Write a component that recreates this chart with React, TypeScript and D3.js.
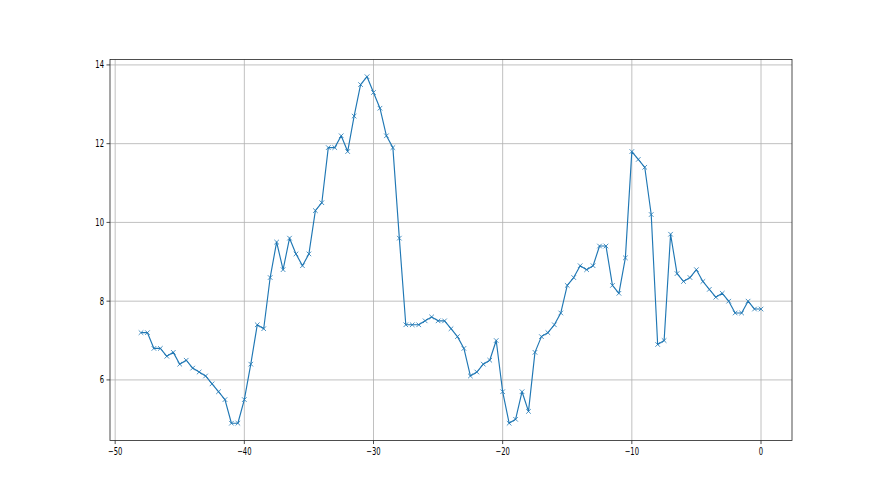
import React from "react";
import * as d3 from "d3";

const xValues: number[] = d3.range(97).map((i) => -48 + i * 0.5);
const yValues: number[] = [
  7.2, 7.2, 6.8, 6.8, 6.6, 6.7, 6.4, 6.5, 6.3, 6.2, 6.1, 5.9, 5.7, 5.5, 4.9, 4.9,
  5.5, 6.4, 7.4, 7.3, 8.6, 9.5, 8.8, 9.6, 9.2, 8.9, 9.2, 10.3, 10.5, 11.9, 11.9,
  12.2, 11.8, 12.7, 13.5, 13.7, 13.3, 12.9, 12.2, 11.9, 9.6, 7.4, 7.4, 7.4, 7.5,
  7.6, 7.5, 7.5, 7.3, 7.1, 6.8, 6.1, 6.2, 6.4, 6.5, 7.0, 5.7, 4.9, 5.0, 5.7, 5.2,
  6.7, 7.1, 7.2, 7.4, 7.7, 8.4, 8.6, 8.9, 8.8, 8.9, 9.4, 9.4, 8.4, 8.2, 9.1, 11.8,
  11.6, 11.4, 10.2, 6.9, 7.0, 9.7, 8.7, 8.5, 8.6, 8.8, 8.5, 8.3, 8.1, 8.2, 8.0,
  7.7, 7.7, 8.0, 7.8, 7.8,
];
const xTicks: number[] = [-50, -40, -30, -20, -10, 0];
const yTicks: number[] = [6, 8, 10, 12, 14];

const W = 880;
const H = 495;
const left = 110;
const right = 792;
const top = 59.4;
const bottom = 440.55;
const sx = 0.68;

export default function App() {
  const xMin = d3.min(xValues)!;
  const xMax = d3.max(xValues)!;
  const yMin = d3.min(yValues)!;
  const yMax = d3.max(yValues)!;
  const xPad = (xMax - xMin) * 0.05;
  const yPad = (yMax - yMin) * 0.05;
  const x = d3.scaleLinear().domain([xMin - xPad, xMax + xPad]).range([left, right]);
  const y = d3.scaleLinear().domain([yMin - yPad, yMax + yPad]).range([bottom, top]);
  const pts = xValues.map((v, i) => [v, yValues[i]] as [number, number]);
  const line = d3.line<[number, number]>().x((d) => x(d[0])).y((d) => y(d[1]));
  const color = "#1f77b4";
  const m = 2.3;
  return (
    <svg
      width={W}
      height={H}
      style={{ position: "absolute", left: 0, top: 0, background: "#fff" }}
      fontFamily="DejaVu Sans"
    >
      <rect x={0} y={0} width={W} height={H} fill="#fff" />
      {xTicks.map((t) => (
        <line key={"gx" + t} x1={x(t)} x2={x(t)} y1={top} y2={bottom} stroke="#b0b0b0" strokeWidth={0.8} />
      ))}
      {yTicks.map((t) => (
        <line key={"gy" + t} x1={left} x2={right} y1={y(t)} y2={y(t)} stroke="#b0b0b0" strokeWidth={0.8} />
      ))}
      <path d={line(pts)!} fill="none" stroke={color} strokeWidth={1.15} strokeLinejoin="round" />
      {pts.map((p, i) => {
        const cx = x(p[0]);
        const cy = y(p[1]);
        return (
          <path
            key={"m" + i}
            d={`M${cx - m},${cy - m}L${cx + m},${cy + m}M${cx - m},${cy + m}L${cx + m},${cy - m}`}
            stroke={color}
            strokeWidth={0.8}
            fill="none"
          />
        );
      })}
      <rect x={left} y={top} width={right - left} height={bottom - top} fill="none" stroke="#222" strokeWidth={0.8} />
      {xTicks.map((t) => (
        <g key={"tx" + t}>
          <line x1={x(t)} x2={x(t)} y1={bottom} y2={bottom + 3.5} stroke="#222" strokeWidth={0.8} />
          <text
            transform={`translate(${x(t)},${bottom + 14.5}) scale(${sx},1)`}
            textAnchor="middle"
            fontSize={10}
            fill="#000"
          >
            {t < 0 ? "\u2212" + Math.abs(t) : String(t)}
          </text>
        </g>
      ))}
      {yTicks.map((t) => (
        <g key={"ty" + t}>
          <line x1={left - 3.5} x2={left} y1={y(t)} y2={y(t)} stroke="#222" strokeWidth={0.8} />
          <text
            transform={`translate(${left - 6},${y(t)}) scale(${sx},1)`}
            dy="0.35em"
            textAnchor="end"
            fontSize={10}
            fill="#000"
          >
            {t}
          </text>
        </g>
      ))}
    </svg>
  );
}
